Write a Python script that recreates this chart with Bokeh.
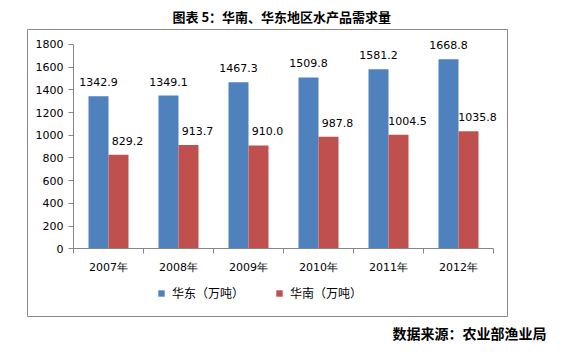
import numpy as np
from bokeh.plotting import figure
from bokeh.models import (ColumnDataSource, FixedTicker, Range1d, LabelSet,
                          Legend, LegendItem, Title)
from bokeh.core.properties import value
from bokeh.embed import file_html
from bokeh.resources import INLINE

# ---- data ----
years = ["2007年", "2008年", "2009年", "2010年", "2011年", "2012年"]
east = [1342.9, 1349.1, 1467.3, 1509.8, 1581.2, 1668.8]
south = [829.2, 913.7, 910.0, 987.8, 1004.5, 1035.8]
series_names = ["华东（万吨）", "华南（万吨）"]
title_text = "图表 5：华南、华东地区水产品需求量"
source_text = "数据来源：农业部渔业局"
y_ticks = list(range(0, 1801, 200))

BLUE = "#4F81BD"
RED = "#C0504D"
GRAY = "#868686"
FONT = "DejaVu Sans"
CJK = "Noto Sans CJK SC"

W, H = 566, 357
# outer box (frame) in pixels
BL, BR, BT, BB = 27, 507, 28, 316
# inner plotting area in pixels
FL, FR, FT, FB = 73, 493, 43, 248

n = len(years)
ymax = y_ticks[-1]
xppu = (FR - FL) / n
yupp = ymax / (FB - FT)
x_rng = Range1d(-(FL - BL) / xppu, n + (BR - FR) / xppu)
y_rng = Range1d(-(BB - FB) * yupp, ymax + (FT - BT) * yupp)

p = figure(width=W, height=H, output_backend="svg", toolbar_location=None,
           x_range=x_rng, y_range=y_rng,
           min_border_left=BL, min_border_right=W - BR,
           min_border_top=BT, min_border_bottom=H - BB)
p.outline_line_color = "#898989"
p.outline_line_width = 1
p.grid.grid_line_color = None
p.background_fill_color = "white"
p.border_fill_color = "white"

centers = np.arange(n) + 0.5
bw = 20 / xppu
src = ColumnDataSource(dict(
    xe=centers - bw / 2, xs=centers + bw / 2, east=east, south=south,
    le=[f"{v:.1f}" for v in east], ls=[f"{v:.1f}" for v in south]))

r1 = p.vbar(x="xe", top="east", width=bw, source=src, fill_color=BLUE, line_color=None)
r2 = p.vbar(x="xs", top="south", width=bw, source=src, fill_color=RED, line_color=None)

for xcol, col, lab, xo in (("xe", "east", "le", 0), ("xs", "south", "ls", 9)):
    p.add_layout(LabelSet(x=xcol, y=col, text=lab, source=src,
                          text_font=value(FONT), text_font_size="11px",
                          text_color="black", text_align="center",
                          text_baseline="middle", x_offset=xo, y_offset=14))

# x axis (fixed at y=0)
xa = p.xaxis[0]
xa.fixed_location = 0
xa.bounds = (0, n)
xa.ticker = FixedTicker(ticks=list(centers), minor_ticks=list(range(n + 1)))
xa.major_label_overrides = {float(c): y for c, y in zip(centers, years)}
xa.major_tick_out = 0
xa.major_tick_in = 0
xa.major_tick_line_color = None
xa.minor_tick_out = 5
xa.minor_tick_in = 0
xa.minor_tick_line_color = GRAY
xa.axis_line_color = GRAY
xa.major_label_standoff = 7
xa.major_label_text_font = FONT
xa.major_label_text_font_size = "11px"
xa.major_label_text_color = "black"

# y axis (fixed at x=0)
ya = p.yaxis[0]
ya.fixed_location = 0
ya.bounds = (0, ymax)
ya.ticker = FixedTicker(ticks=y_ticks, minor_ticks=[])
ya.major_tick_out = 5
ya.major_tick_in = 0
ya.major_tick_line_color = GRAY
ya.minor_tick_line_color = None
ya.axis_line_color = GRAY
ya.major_label_standoff = 5
ya.major_label_text_font = FONT
ya.major_label_text_font_size = "11px"
ya.major_label_text_color = "black"

legend = Legend(items=[LegendItem(label=series_names[0], renderers=[r1]),
                       LegendItem(label=series_names[1], renderers=[r2])],
                orientation="horizontal", location=(157 - BL, BB - 301),
                glyph_width=8, glyph_height=8, label_height=12, label_standoff=7,
                spacing=31, padding=0, margin=0, border_line_color=None,
                background_fill_alpha=0, label_text_font=CJK,
                label_text_font_size="12px", label_text_color="black")
p.add_layout(legend)

p.title.text = title_text
p.title.align = "left"
p.title.offset = 172 - BL
p.title.text_font = CJK
p.title.text_font_size = "13px"
p.title.text_font_style = "bold"
p.title.text_color = "black"
p.title.standoff = 8

src_title = Title(text=source_text, align="left", offset=392 - BL,
                  text_font=CJK, text_font_size="14px", text_font_style="bold",
                  text_color="black", standoff=9)
p.add_layout(src_title, "below")

open("out.html", "w").write(file_html(p, INLINE))
